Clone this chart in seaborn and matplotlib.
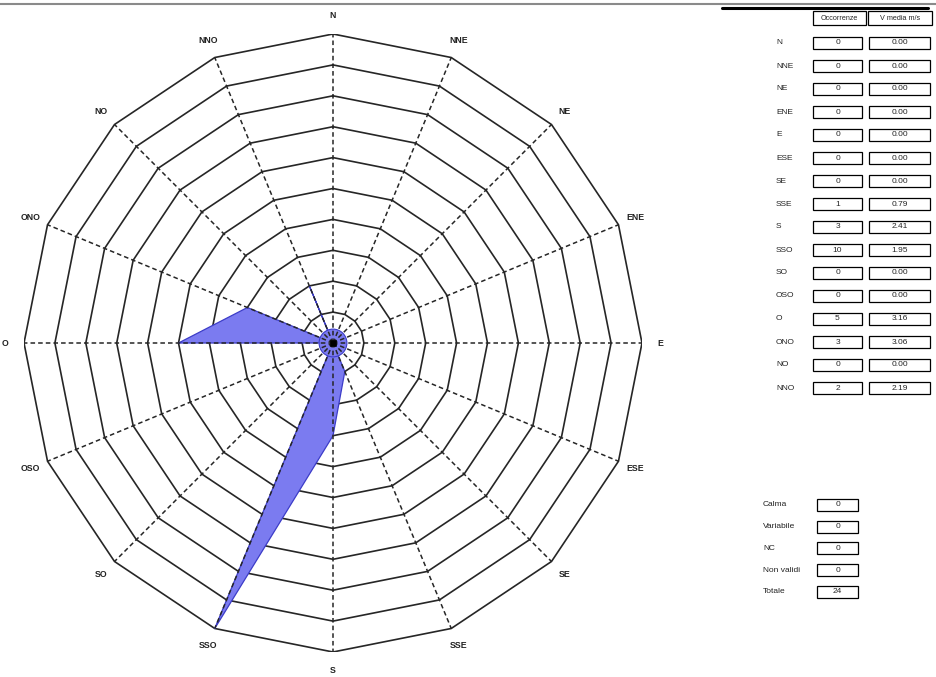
import numpy as np
import matplotlib
matplotlib.use("Agg")
import matplotlib.pyplot as plt
from matplotlib.patches import Rectangle, Circle
from matplotlib.lines import Line2D
import seaborn as sns
import pandas as pd

# ---------------- data ----------------
directions = ["N", "NNE", "NE", "ENE", "E", "ESE", "SE", "SSE",
              "S", "SSO", "SO", "OSO", "O", "ONO", "NO", "NNO"]
occorrenze = [0, 0, 0, 0, 0, 0, 0, 1, 3, 10, 0, 0, 5, 3, 0, 2]
v_media = ["0.00", "0.00", "0.00", "0.00", "0.00", "0.00", "0.00", "0.79",
           "2.41", "1.95", "0.00", "0.00", "3.16", "3.06", "0.00", "2.19"]
ring_levels = list(range(1, 11))
summary_labels = ["Calma", "Variabile", "NC", "Non validi", "Totale"]
summary_values = [0, 0, 0, 0, 24]
header_labels = ["Occorrenze", "V media m/s"]

sns.set_theme(style="white")
plt.rcParams["font.family"] = ["Liberation Sans", "DejaVu Sans"]

W, H = 936, 677
fig = plt.figure(figsize=(W / 100, H / 100), dpi=100)
fig.patch.set_facecolor("white")


def fx(px):
    return px / W


def fy(py):
    return 1 - py / H


# polar-like chart drawn on an equal cartesian axes
cx, cy, R = 333, 343, 309
ax = fig.add_axes([fx(cx - R), fy(cy + R), 2 * R / W, 2 * R / H])
rmax = max(ring_levels)
ax.set_xlim(-rmax, rmax)
ax.set_ylim(-rmax, rmax)
ax.axis("off")

n = len(directions)
theta = np.deg2rad(np.arange(n) * 360.0 / n)
sx, sy = np.sin(theta), np.cos(theta)

# rings (polygons)
for k in ring_levels:
    ax.plot(np.append(k * sx, k * sx[0]), np.append(k * sy, k * sy[0]),
            color="#262626", lw=1.2, zorder=1)

# data polygon
vals = np.array(occorrenze, dtype=float)
px_ = vals * sx
py_ = vals * sy
df = pd.DataFrame({"x": np.append(px_, px_[0]), "y": np.append(py_, py_[0]),
                   "ord": np.arange(n + 1)})
ax.fill(df["x"], df["y"], facecolor="#7b7bf0", edgecolor="none", zorder=2)
sns.lineplot(data=df, x="x", y="y", sort=False, ax=ax, color="#3c3cc8",
             lw=0.9, zorder=2.5, estimator=None)
ax.add_patch(Circle((0, 0), 0.45, facecolor="#7b7bf0", edgecolor="#3c3cc8",
                    lw=0.8, zorder=2.6))

# spokes
for i in range(n):
    ax.plot([0, rmax * sx[i]], [0, rmax * sy[i]], color="#262626", lw=1.1,
            ls=(0, (3, 2)), zorder=3)

sns.scatterplot(x=[0], y=[0], marker="s", s=24, color="black", ax=ax,
                zorder=4, edgecolor="black")
ax.set_xlabel("")
ax.set_ylabel("")
ax.set_xlim(-rmax, rmax)
ax.set_ylim(-rmax, rmax)

# direction labels
for i, d in enumerate(directions):
    ax.text(10.6 * sx[i], 10.6 * sy[i], d, ha="center", va="center",
            fontsize=6.3, fontweight="bold", color="#222222", clip_on=False)

# top decorations
fig.add_artist(Line2D([0, 1], [fy(4), fy(4)], color="#8a8a8a", lw=1.5))
fig.add_artist(Line2D([fx(722), fx(928)], [fy(8), fy(8)], color="black", lw=2.2))


def box(x0, x1, yc, h=12, lw=0.9):
    fig.add_artist(Rectangle((fx(x0), fy(yc + h / 2)), (x1 - x0) / W, h / H,
                             fill=False, edgecolor="black", lw=lw))


# header
box(813, 866, 18, h=13)
box(868, 932, 18, h=13)
fig.text(fx(839.5), fy(18), header_labels[0], ha="center", va="center", fontsize=5.2)
fig.text(fx(900), fy(18), header_labels[1], ha="center", va="center", fontsize=5.2)

# rows
for i, d in enumerate(directions):
    yc = 43 + 23 * i
    fig.text(fx(776), fy(yc), d, ha="left", va="center", fontsize=6, color="#222222")
    box(813, 862, yc)
    box(869, 930, yc)
    fig.text(fx(837.5), fy(yc), str(occorrenze[i]), ha="center", va="center", fontsize=6)
    fig.text(fx(899.5), fy(yc), v_media[i], ha="center", va="center", fontsize=6)

# summary
for j, (lab, val) in enumerate(zip(summary_labels, summary_values)):
    yc = 505 + 21.7 * j
    fig.text(fx(763), fy(yc), lab, ha="left", va="center", fontsize=6, color="#222222")
    box(817, 858, yc)
    fig.text(fx(837.5), fy(yc), str(val), ha="center", va="center", fontsize=6)

fig.savefig("out.png", dpi=100, facecolor="white")
